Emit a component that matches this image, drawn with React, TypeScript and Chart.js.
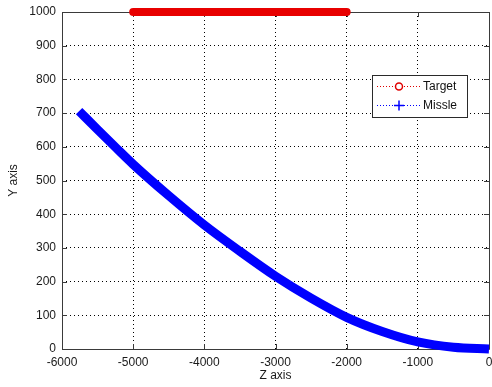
import React, { useEffect, useRef } from 'react';
import { Chart, registerables } from 'chart.js';

Chart.register(...registerables);

const targetZ = [-5000, -4000, -3000, -2000];
const targetY = [1000, 1000, 1000, 1000];

const missileZ = [-5760, -5500, -5250, -5000, -4500, -4000, -3500, -3000, -2500, -2000, -1500, -1000, -500, 0];
const missileY = [706, 651, 599, 548, 455, 368, 290, 216, 151, 94, 52, 21, 5, 0];

const xTickValues = [-6000, -5000, -4000, -3000, -2000, -1000, 0];
const yTickValues = [0, 100, 200, 300, 400, 500, 600, 700, 800, 900, 1000];

const legendLabels = ['Target', 'Missle'];
const xTitle = 'Z axis';
const yTitle = 'Y axis';

const FONT = '"Liberation Sans", Arial, sans-serif';

const matlabPlugin = {
  id: 'matlabFrame',
  beforeDatasetsDraw(chart: any) {
    const { ctx, chartArea } = chart;
    const { left, right, top, bottom } = chartArea;
    const xs = chart.scales.x;
    const ys = chart.scales.y;
    ctx.save();
    ctx.strokeStyle = '#3a3a3a';
    ctx.lineWidth = 1;
    ctx.beginPath();
    ctx.rect(Math.round(left) + 0.5, Math.round(top) + 0.5, Math.round(right - left), Math.round(bottom - top));
    ctx.stroke();
    const tl = 5;
    ctx.beginPath();
    xTickValues.forEach((v) => {
      const px = Math.round(xs.getPixelForValue(v)) + 0.5;
      ctx.moveTo(px, bottom);
      ctx.lineTo(px, bottom - tl);
      ctx.moveTo(px, top);
      ctx.lineTo(px, top + tl);
    });
    yTickValues.forEach((v) => {
      const py = Math.round(ys.getPixelForValue(v)) + 0.5;
      ctx.moveTo(left, py);
      ctx.lineTo(left + tl, py);
      ctx.moveTo(right, py);
      ctx.lineTo(right - tl, py);
    });
    ctx.stroke();
    ctx.fillStyle = '#1a1a1a';
    ctx.font = `12px ${FONT}`;
    ctx.textAlign = 'center';
    ctx.textBaseline = 'middle';
    ctx.fillText(xTitle, (left + right) / 2, 376);
    ctx.translate(14, (top + bottom) / 2);
    ctx.rotate(-Math.PI / 2);
    ctx.fillText(yTitle, 0, 0);
    ctx.restore();
  },
  afterDraw(chart: any) {
    const { ctx } = chart;
    ctx.save();
    const bx = 372, by = 75, bw = 95, bh = 42;
    ctx.fillStyle = '#ffffff';
    ctx.fillRect(bx, by, bw, bh);
    ctx.strokeStyle = '#2a2a2a';
    ctx.lineWidth = 1;
    ctx.strokeRect(bx + 0.5, by + 0.5, bw, bh);
    const rows = [86, 105];
    const colors = ['#e00000', '#0000ff'];
    rows.forEach((ry, i) => {
      ctx.strokeStyle = colors[i];
      ctx.lineWidth = 1;
      ctx.setLineDash([1, 2]);
      ctx.beginPath();
      ctx.moveTo(377, ry + 0.5);
      ctx.lineTo(420, ry + 0.5);
      ctx.stroke();
      ctx.setLineDash([]);
      if (i === 0) {
        ctx.lineWidth = 1.5;
        ctx.fillStyle = '#ffffff';
        ctx.beginPath();
        ctx.arc(399, ry + 0.5, 3.5, 0, Math.PI * 2);
        ctx.fill();
        ctx.stroke();
      } else {
        ctx.lineWidth = 1.5;
        ctx.beginPath();
        ctx.moveTo(394, ry + 0.5);
        ctx.lineTo(404, ry + 0.5);
        ctx.moveTo(399, ry - 4.5);
        ctx.lineTo(399, ry + 5.5);
        ctx.stroke();
      }
      ctx.fillStyle = '#111111';
      ctx.font = `12px ${FONT}`;
      ctx.textAlign = 'left';
      ctx.textBaseline = 'middle';
      ctx.fillText(legendLabels[i], 423, ry + 1);
    });
    ctx.restore();
  },
};

export default function App() {
  const canvasRef = useRef<HTMLCanvasElement | null>(null);

  useEffect(() => {
    document.body.style.margin = '0';
    const canvas = canvasRef.current;
    if (!canvas) return;
    const targetData = targetZ.map((x, i) => ({ x, y: targetY[i] }));
    const missileData = missileZ.map((x, i) => ({ x, y: missileY[i] }));
    const chart = new Chart(canvas, {
      type: 'scatter',
      data: {
        datasets: [
          {
            label: legendLabels[1],
            data: missileData,
            showLine: true,
            borderColor: '#0000ff',
            backgroundColor: '#0000ff',
            borderWidth: 9,
            pointRadius: 0,
            cubicInterpolationMode: 'monotone',
            borderCapStyle: 'butt',
            clip: false,
          } as any,
          {
            label: legendLabels[0],
            data: targetData,
            showLine: true,
            borderColor: '#e80000',
            backgroundColor: '#e80000',
            borderWidth: 8,
            pointRadius: 0,
            borderCapStyle: 'round',
            clip: false,
          } as any,
          {
            label: legendLabels[0] + ' core',
            data: targetData,
            showLine: true,
            borderColor: '#b00000',
            borderWidth: 1.5,
            pointRadius: 0,
            clip: false,
          } as any,
        ],
      },
      options: {
        animation: false,
        responsive: false,
        maintainAspectRatio: false,
        layout: { padding: { top: 12, right: 3, left: 0, bottom: 0 } },
        plugins: {
          legend: { display: false },
          tooltip: { enabled: false },
        },
        scales: {
          x: {
            type: 'linear',
            min: -6000,
            max: 0,
            afterBuildTicks: (scale: any) => {
              scale.ticks = xTickValues.map((v) => ({ value: v }));
            },
            ticks: {
              color: '#1a1a1a',
              font: { family: FONT, size: 12 },
              padding: 6,
              maxRotation: 0,
              autoSkip: false,
              callback: (v: any) => String(v),
            },
            grid: {
              color: '#000000',
              lineWidth: 1,
              drawTicks: false,
            },
            border: { display: false, dash: [1, 3] },
            afterFit: (scale: any) => {
              scale.height = 38;
              scale.paddingLeft = 0;
              scale.paddingRight = 0;
            },
          },
          y: {
            type: 'linear',
            min: 0,
            max: 1000,
            afterBuildTicks: (scale: any) => {
              scale.ticks = yTickValues.map((v) => ({ value: v }));
            },
            ticks: {
              color: '#1a1a1a',
              font: { family: FONT, size: 12 },
              padding: 6,
              autoSkip: false,
              callback: (v: any) => String(v),
            },
            grid: {
              color: '#000000',
              lineWidth: 1,
              drawTicks: false,
            },
            border: { display: false, dash: [1, 3] },
            afterFit: (scale: any) => {
              scale.width = 62;
              scale.paddingTop = 0;
              scale.paddingBottom = 0;
            },
          },
        },
      } as any,
      plugins: [matlabPlugin],
    });
    return () => chart.destroy();
  }, []);

  return (
    <div style={{ width: 492, height: 387, background: '#ffffff' }}>
      <canvas ref={canvasRef} width={492} height={387} style={{ display: 'block' }} />
    </div>
  );
}
